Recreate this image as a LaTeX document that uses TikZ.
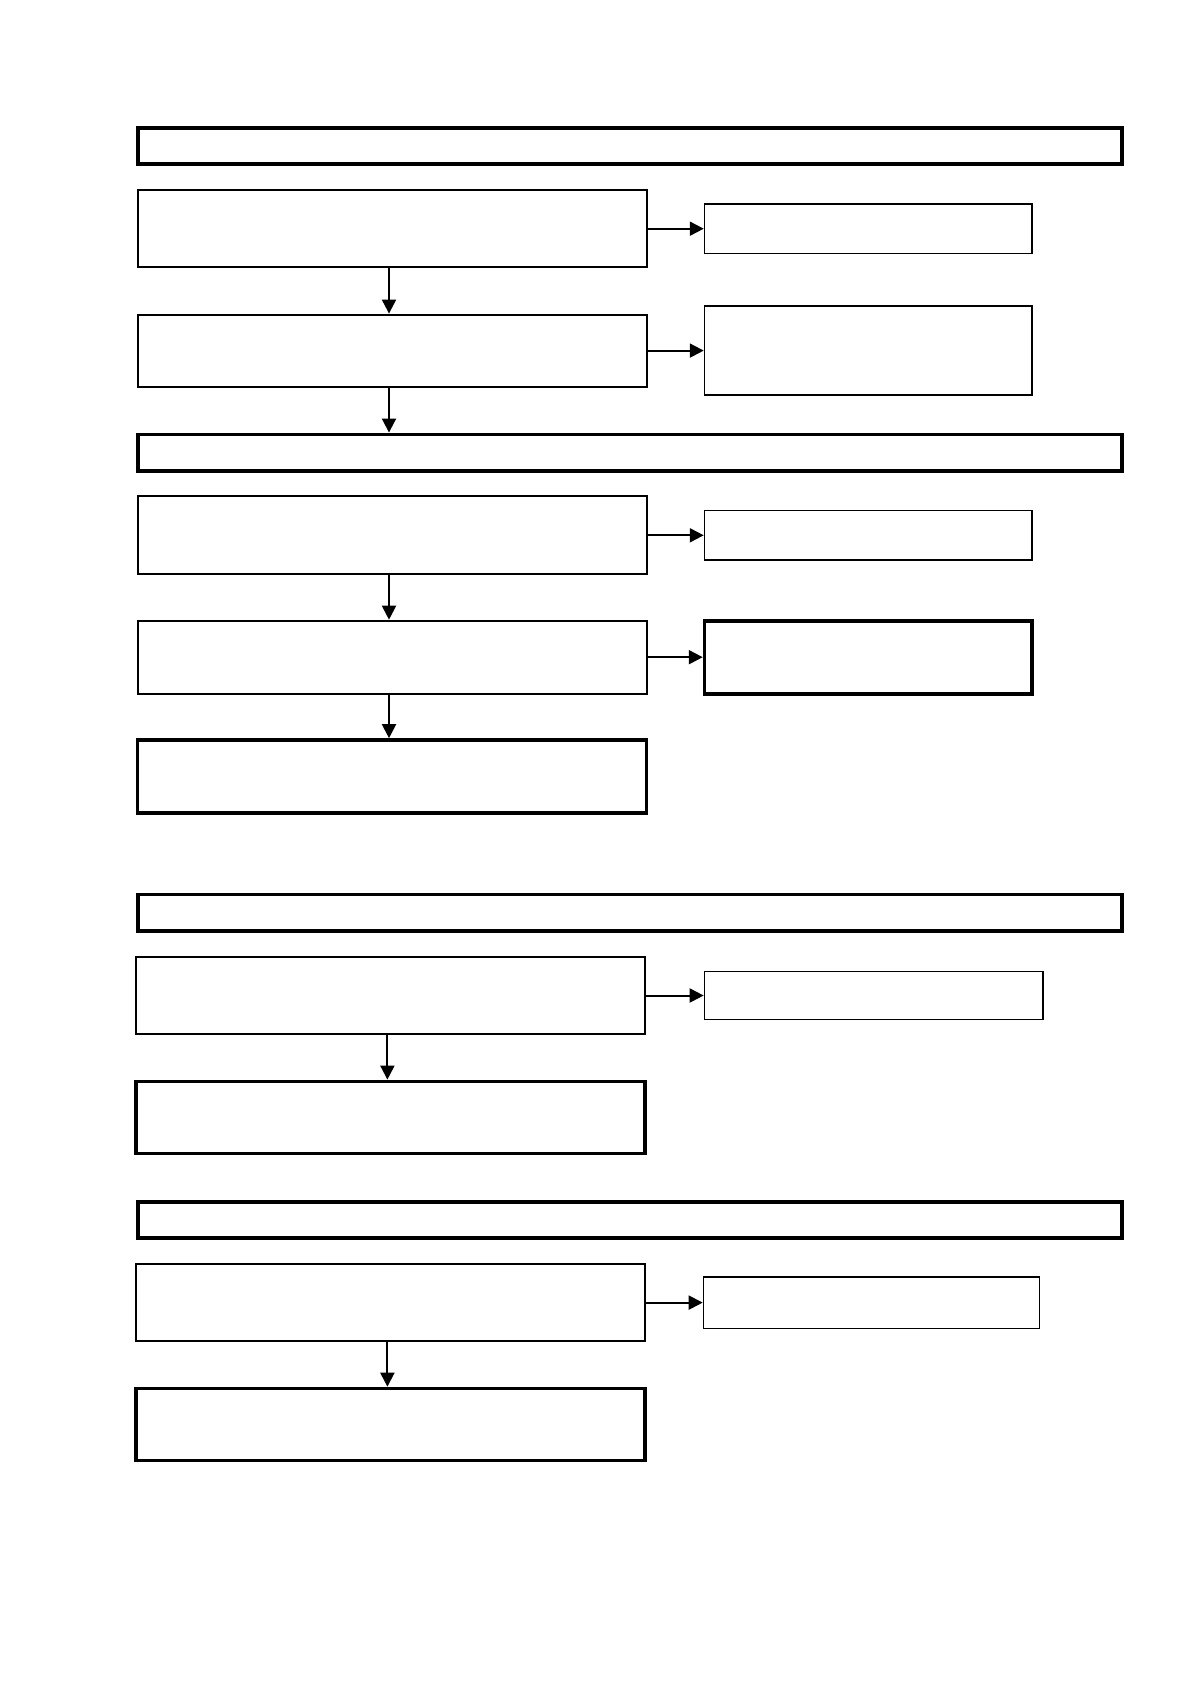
\documentclass[tikz,border=0pt]{standalone}
\usetikzlibrary{arrows.meta}

\begin{document}
\begin{tikzpicture}[x=0.5pt, y=-0.5pt,
    head/.style={draw, line width=1.8pt, minimum width=491.75pt, minimum height=18.25pt, inner sep=0pt},
    stepbox/.style={draw, line width=1pt, minimum width=254.5pt, inner sep=0pt},
    endbox/.style={stepbox, line width=1.8pt},
    sidebox/.style={draw, line width=0.8pt, inner sep=0pt},
    arr/.style={line width=1pt, -{Triangle[length=7pt, width=7pt]}},
    down/.style={xshift=-1.5pt}]
    \useasboundingbox (0, 0) rectangle (1191, 1684);

    % first section
    \node[head] (h1) at (630, 146) {};
    \node[stepbox, minimum height=38.7pt] (a1) at (392, 228.7) {};
    \node[stepbox, minimum height=36pt] (a2) at (392, 350.6) {};
    \node[sidebox, minimum width=163.75pt, minimum height=24.7pt] (r1) at (868.3, 228.7) {};
    \node[sidebox, minimum width=163.75pt, minimum height=44.6pt] (r2) at (868.3, 350.6) {};

    % second section
    \node[head] (h2) at (630, 452.6) {};
    \node[stepbox, minimum height=39pt] (b1) at (392, 535.3) {};
    \node[stepbox, minimum height=36.5pt] (b2) at (392, 657.2) {};
    \node[endbox, minimum height=36.5pt] (b3) at (392, 776.5) {};
    \node[sidebox, minimum width=163.75pt, minimum height=24.8pt] (r3) at (868.3, 535.3) {};
    \node[sidebox, line width=1.8pt, minimum width=163.75pt, minimum height=36.5pt] (r4) at (868.3, 657.2) {};

    % third section
    \node[head] (h3) at (630, 912.8) {};
    \node[stepbox, minimum height=38.7pt] (c1) at (390.4, 995.5) {};
    \node[endbox, minimum height=36pt] (c2) at (390.4, 1117.4) {};
    \node[sidebox, minimum width=169.15pt, minimum height=24.1pt] (r5) at (873.6, 995.5) {};

    % fourth section
    \node[head] (h4) at (630, 1220) {};
    \node[stepbox, minimum height=38.7pt] (d1) at (390.4, 1302.6) {};
    \node[endbox, minimum height=36pt] (d2) at (390.4, 1424.5) {};
    \node[sidebox, minimum width=168pt, minimum height=25.75pt] (r6) at (871.5, 1302.6) {};

    % connectors
    \draw[arr] ([down]a1.south) -- ([down]a2.north);
    \draw[arr] ([down]a2.south) -- ([down]a2.south |- h2.north);
    \draw[arr] ([down]b1.south) -- ([down]b2.north);
    \draw[arr] ([down]b2.south) -- ([down]b3.north);
    \draw[arr] ([down]c1.south) -- ([down]c2.north);
    \draw[arr] ([down]d1.south) -- ([down]d2.north);
    \draw[arr] (a1) -- (r1);
    \draw[arr] (a2) -- (r2);
    \draw[arr] (b1) -- (r3);
    \draw[arr] (b2) -- (r4);
    \draw[arr] (c1) -- (r5);
    \draw[arr] (d1) -- (r6);
\end{tikzpicture}
\end{document}
